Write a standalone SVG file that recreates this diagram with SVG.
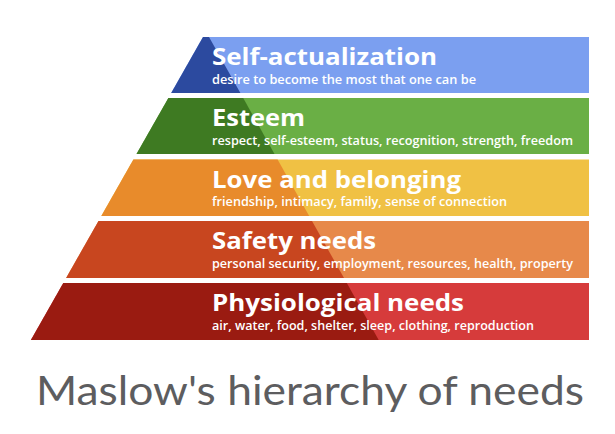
<svg xmlns="http://www.w3.org/2000/svg" width="615" height="434" viewBox="0 0 615 434">
<style>
.t{font-family:"Open Sans","Liberation Sans",sans-serif;font-weight:700;font-size:23.5px;fill:#fff}
.s{font-family:"Open Sans","Liberation Sans",sans-serif;font-weight:600;font-size:12.3px;fill:#fff}
.h{font-family:Lato,"Open Sans","Liberation Sans",sans-serif;font-weight:400;font-size:40px;fill:#5d5d5f}
</style>
<rect width="615" height="434" fill="#fff"/>
<g id="self-actualization">
<polygon points="203,37 589,37 589,93 171.2,93" fill="#7b9ff0"/>
<polygon points="203,37 209,37 240.4,93 171.2,93" fill="#2c4a9f"/>
<text class="t" x="212" y="65" textLength="225" lengthAdjust="spacingAndGlyphs">Self-actualization</text>
<text class="s" x="212" y="83.5" textLength="264" lengthAdjust="spacingAndGlyphs">desire to become the most that one can be</text>
</g>
<g id="esteem">
<polygon points="168.4,98 589,98 589,154 136.5,154" fill="#6aaf45"/>
<polygon points="168.4,98 243.2,98 274.5,154 136.5,154" fill="#3e7a22"/>
<text class="t" x="212" y="126" textLength="93" lengthAdjust="spacingAndGlyphs">Esteem</text>
<text class="s" x="212" y="144.5" textLength="361" lengthAdjust="spacingAndGlyphs">respect, self-esteem, status, recognition, strength, freedom</text>
</g>
<g id="love-belonging">
<polygon points="133.4,159.5 589,159.5 589,216 101.3,216" fill="#f0c144"/>
<polygon points="133.4,159.5 277.6,159.5 309.2,216 101.3,216" fill="#e88b2b"/>
<text class="t" x="212" y="187.5" textLength="249" lengthAdjust="spacingAndGlyphs">Love and belonging</text>
<text class="s" x="212" y="206" textLength="295" lengthAdjust="spacingAndGlyphs">friendship, intimacy, family, sense of connection</text>
</g>
<g id="safety">
<polygon points="98.5,221 589,221 589,278 66.1,278" fill="#e7894a"/>
<polygon points="98.5,221 312,221 344,278 66.1,278" fill="#c8461f"/>
<text class="t" x="212" y="249" textLength="164" lengthAdjust="spacingAndGlyphs">Safety needs</text>
<text class="s" x="212" y="267.5" textLength="361" lengthAdjust="spacingAndGlyphs">personal security, employment, resources, health, property</text>
</g>
<g id="physiological">
<polygon points="63.3,283 589,283 589,340 30.9,340" fill="#d63b3b"/>
<polygon points="63.3,283 346.8,283 378.7,340 30.9,340" fill="#9a1b11"/>
<text class="t" x="212" y="311" textLength="252" lengthAdjust="spacingAndGlyphs">Physiological needs</text>
<text class="s" x="212" y="329.5" textLength="322" lengthAdjust="spacingAndGlyphs">air, water, food, shelter, sleep, clothing, reproduction</text>
</g>
<text id="title" class="h" x="36" y="405" textLength="548" lengthAdjust="spacingAndGlyphs">Maslow's hierarchy of needs</text>
</svg>
